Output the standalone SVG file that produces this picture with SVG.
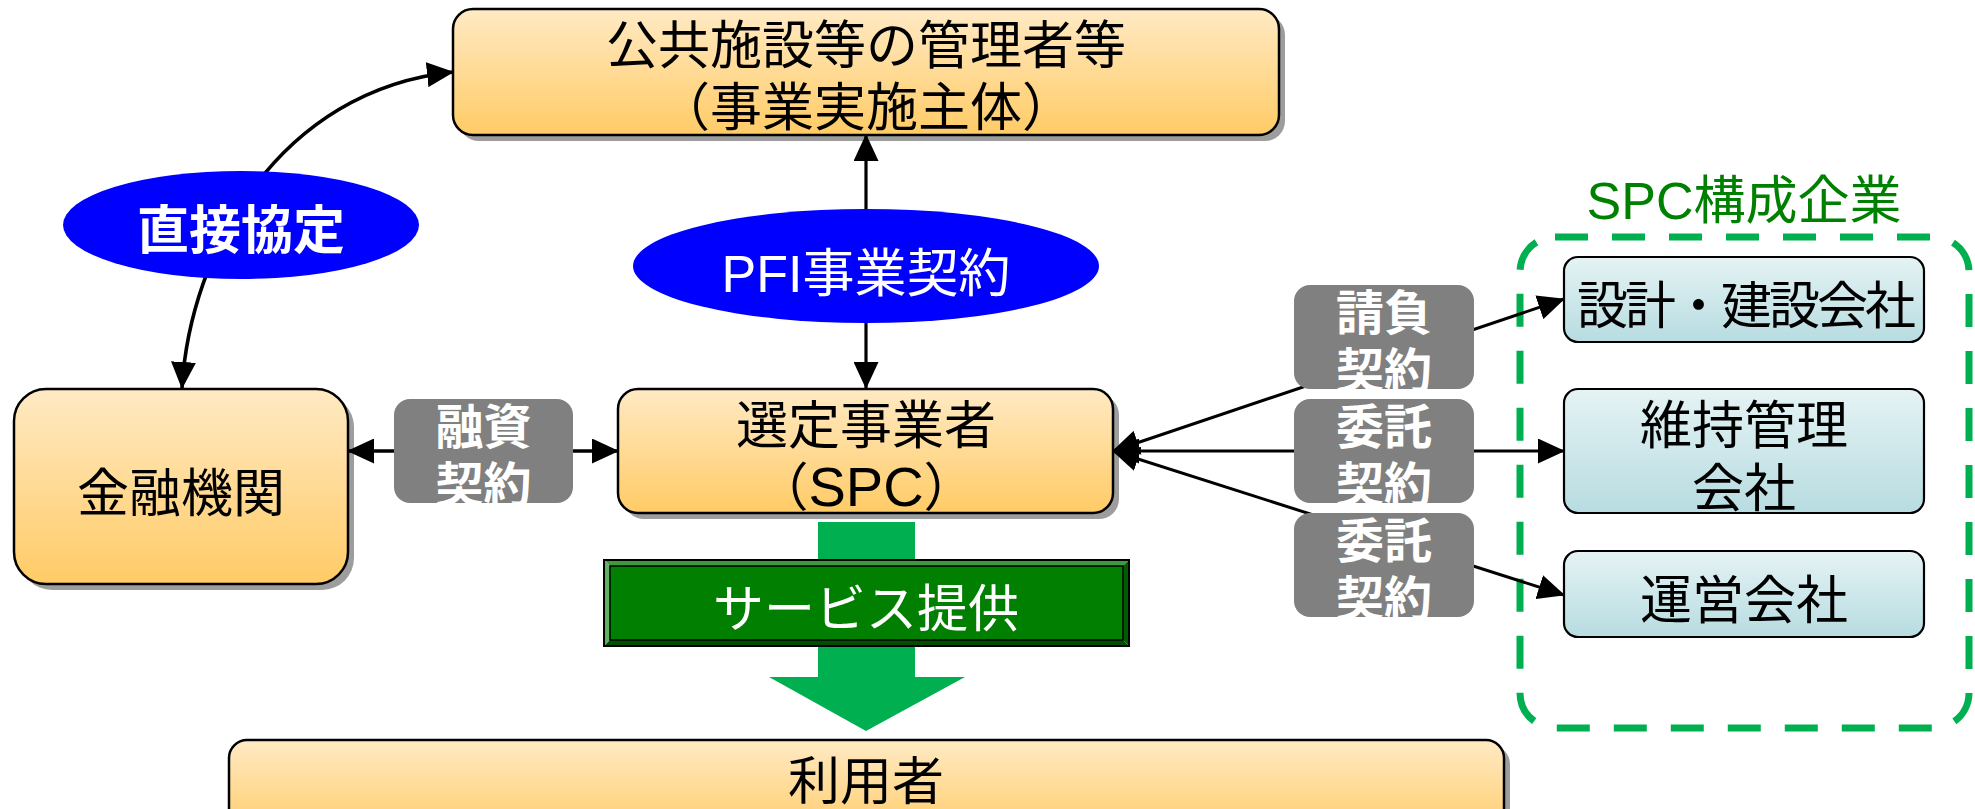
<svg xmlns="http://www.w3.org/2000/svg" width="1975" height="809" viewBox="0 0 1975 809">
<defs>
  <linearGradient id="gOrange" x1="0" y1="0" x2="0" y2="1">
    <stop offset="0" stop-color="#FFEAC4"/>
    <stop offset="1" stop-color="#FFCB66"/>
  </linearGradient>
  <linearGradient id="gBlue" x1="0" y1="0" x2="0" y2="1">
    <stop offset="0" stop-color="#E5F3F4"/>
    <stop offset="1" stop-color="#B7DCE1"/>
  </linearGradient>
  <marker id="ah" markerUnits="userSpaceOnUse" markerWidth="27" markerHeight="25" refX="26" refY="12.5" orient="auto-start-reverse" viewBox="0 0 27 25">
    <path d="M0,0 L27,12.5 L0,25 z" fill="#000"/>
  </marker>
  <clipPath id="cL0"><rect x="394" y="399" width="179" height="104" rx="16"/></clipPath>
  <clipPath id="cL1"><rect x="1294" y="285" width="180" height="104" rx="16"/></clipPath>
  <clipPath id="cL2"><rect x="1294" y="399" width="180" height="104" rx="16"/></clipPath>
  <clipPath id="cL3"><rect x="1294" y="513" width="180" height="104" rx="16"/></clipPath>
</defs>
<style>
  .shadow{fill:#9d9d9d}
  .obox{fill:url(#gOrange);stroke:#000;stroke-width:2.5}
  .bbox{fill:url(#gBlue);stroke:#000;stroke-width:2.2}
  .t{font-family:'Liberation Sans','Noto Sans CJK JP',sans-serif;text-anchor:middle;fill:#000;font-size:52px}
  .w{fill:#fff}
  .b{font-weight:bold}
  .lbl{fill:#808080}
  .ell{fill:#0000FF}
  .ln{fill:none;stroke:#000;stroke-width:3.2;marker-start:url(#ah);marker-end:url(#ah)}
</style>

<!-- box nodes -->
<g id="node-kanrisha">
  <rect class="shadow" x="459" y="15" width="826" height="126" rx="20"/>
  <rect class="obox" x="453" y="9" width="826" height="126" rx="20"/>
  <text class="t" x="866" y="64">公共施設等の管理者等</text>
  <text class="t" x="866" y="126">（事業実施主体）</text>
</g>
<g id="node-kinyu">
  <rect class="shadow" x="20" y="395" width="334" height="195" rx="32"/>
  <rect class="obox" x="14" y="389" width="334" height="195" rx="32"/>
  <text class="t" x="181" y="512">金融機関</text>
</g>
<g id="node-spc">
  <rect class="shadow" x="624" y="395" width="495" height="124" rx="20"/>
  <rect class="obox" x="618" y="389" width="495" height="124" rx="20"/>
  <text class="t" x="866" y="444">選定事業者</text>
  <text class="t" x="866" y="506">（<tspan style="font-size:56px">SPC</tspan>）</text>
</g>
<g id="node-riyosha">
  <rect class="shadow" x="235" y="746" width="1275" height="100" rx="18"/>
  <rect class="obox" x="229" y="740" width="1275" height="100" rx="18"/>
  <text class="t" x="866" y="800">利用者</text>
</g>

<g id="group-spc-kosei">
  <rect x="1520" y="237" width="449" height="491" rx="35" fill="none" stroke="#00B050" stroke-width="7" stroke-dasharray="33 24"/>
  <text class="t" x="1744" y="219" style="fill:#008000">SPC構成企業</text>
</g>
<g id="node-sekkei">
  <rect class="bbox" x="1564" y="257" width="360" height="85" rx="14"/>
  <text class="t" x="1745" y="324" style="font-size:51px;letter-spacing:-3px">設計・建設会社</text>
</g>
<g id="node-iji">
  <rect class="bbox" x="1564" y="389" width="360" height="124" rx="14"/>
  <text class="t" x="1744" y="444">維持管理</text>
  <text class="t" x="1744" y="507">会社</text>
</g>
<g id="node-unei">
  <rect class="bbox" x="1564" y="551" width="360" height="86" rx="14"/>
  <text class="t" x="1744" y="619">運営会社</text>
</g>

<!-- connectors -->
<g id="connectors">
  <path class="ln" d="M182,388 C190,250 280,90 453,72" style="stroke-width:3.6"/>
  <line class="ln" x1="866" y1="135" x2="866" y2="388"/>
  <line class="ln" x1="348" y1="451" x2="618" y2="451" style="stroke-width:3.6"/>
  <line class="ln" x1="1113" y1="451" x2="1564" y2="299" style="stroke-width:3"/>
  <line class="ln" x1="1113" y1="451" x2="1564" y2="451" style="stroke-width:3"/>
  <line class="ln" x1="1113" y1="451" x2="1564" y2="595" style="stroke-width:3"/>
</g>

<!-- service arrow -->
<g id="node-service">
  <polygon points="818,522 915,522 915,677 965,677 866,731 769,677 818,677" fill="#00B050"/>
  <polygon points="604,560 1129,560 1123,566 610,566" fill="#3C9C3C"/>
  <polygon points="604,560 610,566 610,640 604,646" fill="#63B163"/>
  <polygon points="1129,560 1129,646 1123,640 1123,566" fill="#005C00"/>
  <polygon points="604,646 1129,646 1123,640 610,640" fill="#004E00"/>
  <rect x="610" y="566" width="513" height="74" fill="#007F00" stroke="#000" stroke-width="1.5"/>
  <rect x="604" y="560" width="525" height="86" fill="none" stroke="#000" stroke-width="2"/>
  <text class="t w" x="866" y="627" style="font-size:51px">サービス提供</text>
</g>

<!-- contract labels -->
<g id="label-chokusetsu">
  <ellipse class="ell" cx="241" cy="225" rx="178" ry="54"/>
  <text class="t w b" x="241" y="249">直接協定</text>
</g>
<g id="label-pfi">
  <ellipse class="ell" cx="866" cy="266" rx="233" ry="57"/>
  <text class="t w" x="866" y="292">PFI事業契約</text>
</g>
<g id="label-yushi">
  <rect class="lbl" x="394" y="399" width="179" height="104" rx="16"/>
  <g clip-path="url(#cL0)">
    <text class="t w b" x="483.5" y="444" style="font-size:48px">融資</text>
    <text class="t w b" x="483.5" y="502" style="font-size:48px">契約</text>
  </g>
</g>
<g id="label-ukeoi">
  <rect class="lbl" x="1294" y="285" width="180" height="104" rx="16"/>
  <g clip-path="url(#cL1)">
    <text class="t w b" x="1384" y="330" style="font-size:48px">請負</text>
    <text class="t w b" x="1384" y="388" style="font-size:48px">契約</text>
  </g>
</g>
<g id="label-itaku1">
  <rect class="lbl" x="1294" y="399" width="180" height="104" rx="16"/>
  <g clip-path="url(#cL2)">
    <text class="t w b" x="1384" y="444" style="font-size:48px">委託</text>
    <text class="t w b" x="1384" y="502" style="font-size:48px">契約</text>
  </g>
</g>
<g id="label-itaku2">
  <rect class="lbl" x="1294" y="513" width="180" height="104" rx="16"/>
  <g clip-path="url(#cL3)">
    <text class="t w b" x="1384" y="558" style="font-size:48px">委託</text>
    <text class="t w b" x="1384" y="616" style="font-size:48px">契約</text>
  </g>
</g>
</svg>
